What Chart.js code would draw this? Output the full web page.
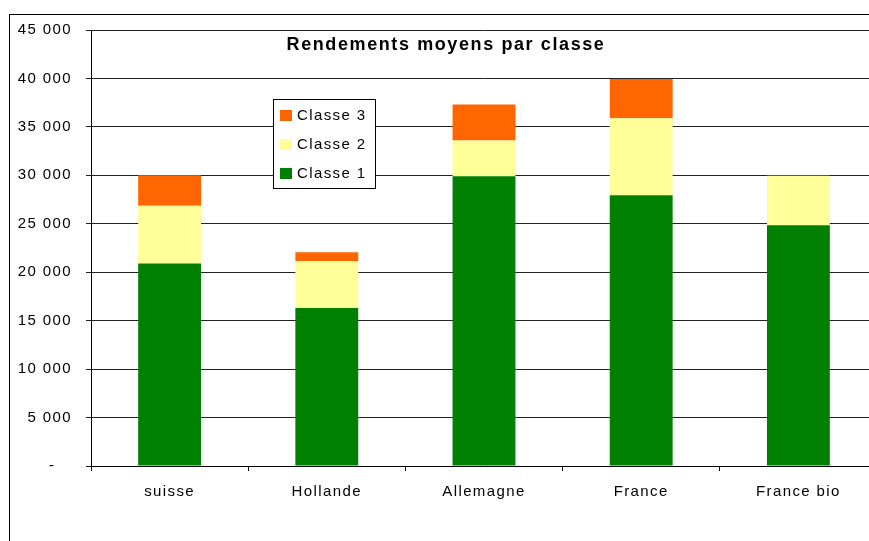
<!DOCTYPE html>
<html>
<head>
<meta charset="utf-8">
<script src="https://cdn.jsdelivr.net/npm/chart.js@4"></script>
<style>
  html, body { margin: 0; padding: 0; background: #fff; overflow: hidden; width: 869px; height: 541px; }
  #frame { position: absolute; left: 9px; top: 14px; width: 2000px; height: 2000px;
           border-left: 1px solid #000; border-top: 1px solid #000; }
  #wrap { position: absolute; left: 0; top: 0; width: 880px; height: 541px; }
</style>
</head>
<body>
<div id="frame"></div>
<div id="wrap"><canvas id="chart" width="880" height="541"></canvas></div>
<script>
// données
const categories = ['suisse', 'Hollande', 'Allemagne', 'France', 'France bio'];
const classe1 = [20900, 16300, 29900, 27950, 24850];
const classe2 = [5950, 4850, 3700, 7950, 5100];
const classe3 = [3150, 900, 3700, 4050, null];
const yTicks = [0, 5000, 10000, 15000, 20000, 25000, 30000, 35000, 40000, 45000];

const FONT = '"Liberation Sans", Arial, sans-serif';

function fmt(v) {
  if (v === 0) return '-   ';
  return String(v).replace(/\B(?=(\d{3})+(?!\d))/g, ' ');
}

// espacement des lettres comme le rendu Excel
const spacing = {
  id: 'spacing',
  beforeLayout(chart) { chart.ctx.letterSpacing = '1.4px'; },
  beforeDraw(chart) { chart.ctx.letterSpacing = '1.4px'; }
};

// titre + légende dessinés dans la zone du graphique
const overlay = {
  id: 'overlay',
  afterDraw(chart) {
    const ctx = chart.ctx;
    const ca = chart.chartArea;
    ctx.save();
    ctx.letterSpacing = '1.6px';
    ctx.fillStyle = '#000';
    ctx.font = 'bold 18px ' + FONT;
    ctx.textAlign = 'center';
    ctx.textBaseline = 'alphabetic';
    ctx.fillText('Rendements moyens par classe', ca.left + 355, ca.top + 20);

    // légende
    const lx = ca.left + 182, ly = ca.top + 69;
    ctx.fillStyle = '#fff';
    ctx.fillRect(lx, ly, 102, 89);
    ctx.strokeStyle = '#000';
    ctx.lineWidth = 1;
    ctx.strokeRect(lx + 0.5, ly + 0.5, 102, 89);
    ctx.letterSpacing = '1.4px';
    ctx.font = '15px ' + FONT;
    ctx.textAlign = 'left';
    ctx.textBaseline = 'middle';
    const sets = chart.data.datasets.slice().reverse();
    sets.forEach((ds, i) => {
      const cy = ly + 17 + i * 29;
      ctx.fillStyle = ds.backgroundColor;
      ctx.fillRect(lx + 7, cy - 6, 12, 11);
      ctx.fillStyle = '#000';
      ctx.fillText(ds.label, lx + 24, cy);
    });
    ctx.restore();
  }
};

new Chart(document.getElementById('chart'), {
  type: 'bar',
  data: {
    labels: categories,
    datasets: [
      { label: 'Classe 1', data: classe1, backgroundColor: '#008000' },
      { label: 'Classe 2', data: classe2, backgroundColor: '#FFFF99' },
      { label: 'Classe 3', data: classe3, backgroundColor: '#FF6600' }
    ]
  },
  options: {
    responsive: false,
    animation: false,
    devicePixelRatio: 1,
    layout: { padding: { left: 0, top: 30, right: 3, bottom: 0 } },
    datasets: { bar: { categoryPercentage: 1, barPercentage: 0.4, borderWidth: 0 } },
    plugins: { legend: { display: false }, tooltip: { enabled: false }, title: { display: false } },
    scales: {
      x: {
        stacked: true,
        grid: { drawOnChartArea: false, drawTicks: true, tickLength: 5, color: '#000', offset: true },
        border: { display: true, color: '#000' },
        ticks: { color: '#000', padding: 12, font: { family: FONT, size: 15 }, maxRotation: 0 },
        afterFit(s) { s.height = 75; }
      },
      y: {
        stacked: true,
        min: 0,
        max: 45000,
        afterBuildTicks(s) { s.ticks = yTicks.map(v => ({ value: v })); },
        grid: { color: '#222', tickLength: 5, drawTicks: true },
        border: { display: true, color: '#000' },
        ticks: { color: '#000', padding: 14, font: { family: FONT, size: 15 }, callback: v => fmt(v) },
        afterFit(s) { s.width = 91; }
      }
    }
  },
  plugins: [spacing, overlay]
});
</script>
</body>
</html>
